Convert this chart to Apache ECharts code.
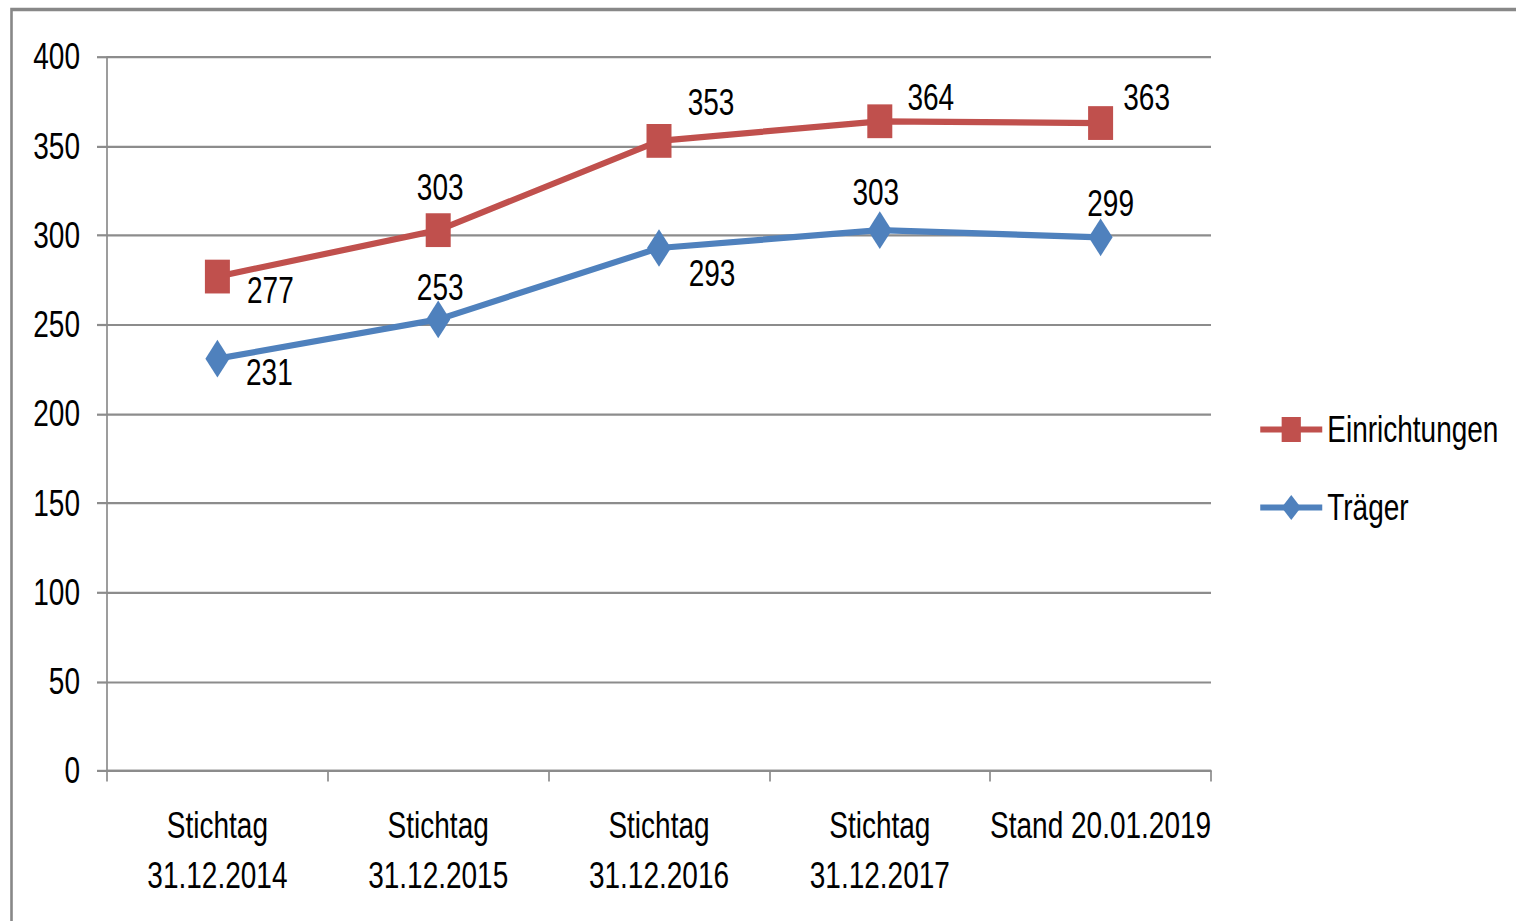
<!DOCTYPE html>
<html>
<head>
<meta charset="utf-8">
<script src="https://cdn.jsdelivr.net/npm/echarts@6/dist/echarts.min.js"></script>
<style>
html,body{margin:0;padding:0;background:#fff;overflow:hidden;}
#wrap{width:1516px;height:921px;overflow:hidden;}
#c{width:1516px;height:708.5px;transform:scaleY(1.3);transform-origin:0 0;}
</style>
</head>
<body>
<div id="wrap"><div id="c"></div></div>
<script>
const categories = ['Stichtag\n31.12.2014','Stichtag\n31.12.2015','Stichtag\n31.12.2016','Stichtag\n31.12.2017','Stand 20.01.2019'];
const einrichtungen = [277, 303, 353, 364, 363];
const traeger = [231, 253, 293, 303, 299];
const yTicks = {min: 0, max: 400, interval: 50};

// label offsets (style only, unscaled units)
const offE = [[53,10.8],[2,-32.3],[52,-29.2],[51,-18.5],[46,-19.2]];
const offT = [[52,10.8],[2,-24.6],[53,20],[-4,-29.2],[10,-26.2]];

const FONT = "'Liberation Sans',Arial,sans-serif";
const FS = 28;
const RED = '#C0504D', BLUE = '#4F81BD', GRID = '#8c8c8c';

function build(vals, offs){
  return vals.map((v,i)=>({value:v, label:{offset:offs[i]}}));
}

const chart = echarts.init(document.getElementById('c'), null, {renderer:'svg', width:1516, height:708.5});
chart.setOption({
  animation:false,
  backgroundColor:'#fff',
  graphic:[{type:'rect',shape:{x:11.5,y:7.3,width:3000,height:3000},style:{fill:'none',stroke:'#888',lineWidth:2.6},silent:true,z:100}],
  grid:{left:107,right:305,top:43.85,bottom:115.4},
  legend:{
    orient:'vertical',left:1253,top:311.4,itemWidth:62,itemHeight:24,itemGap:32,
    textStyle:{fontFamily:FONT,fontSize:FS,color:'#000',lineHeight:28},
    lineStyle:{width:4.5},
    data:['Einrichtungen','Träger']
  },
  xAxis:{
    type:'category',data:categories,boundaryGap:true,
    axisLine:{lineStyle:{color:GRID,width:1.7}},
    axisTick:{show:true,length:8,lineStyle:{color:GRID,width:1.7}},
    axisLabel:{fontFamily:FONT,fontSize:FS,color:'#000',lineHeight:38.5,margin:23,interval:0}
  },
  yAxis:{
    type:'value',min:yTicks.min,max:yTicks.max,interval:yTicks.interval,
    axisLine:{show:true,lineStyle:{color:GRID,width:1.7}},
    axisTick:{show:true,length:10,lineStyle:{color:GRID,width:1.7}},
    splitLine:{lineStyle:{color:GRID,width:1.7}},
    axisLabel:{fontFamily:FONT,fontSize:FS,color:'#000',margin:27}
  },
  series:[
    {name:'Einrichtungen',type:'line',data:build(einrichtungen,offE),
     symbol:'rect',symbolSize:[25,26],
     itemStyle:{color:RED},lineStyle:{color:RED,width:4.8},
     label:{show:true,position:'inside',align:'center',verticalAlign:'middle',fontFamily:FONT,fontSize:FS,color:'#000'}},
    {name:'Träger',type:'line',data:build(traeger,offT),
     symbol:'diamond',symbolSize:[24,29],
     itemStyle:{color:BLUE},lineStyle:{color:BLUE,width:4.8},
     label:{show:true,position:'inside',align:'center',verticalAlign:'middle',fontFamily:FONT,fontSize:FS,color:'#000'}}
  ]
});
</script>
</body>
</html>
